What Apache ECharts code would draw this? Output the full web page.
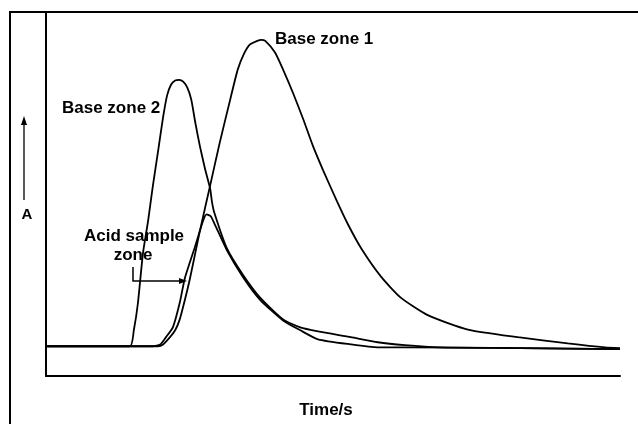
<!DOCTYPE html>
<html>
<head>
<meta charset="utf-8">
<script src="https://cdn.jsdelivr.net/npm/echarts@6/dist/echarts.min.js"></script>
<style>
  html, body { margin: 0; padding: 0; background: #fff; }
  #chart { width: 638px; height: 424px; }
</style>
</head>
<body>
<div id="chart"></div>
<script>
// time (arbitrary units 0..100) and absorbance (0..100)
const zone2Time = [0, 14.6, 15.3, 16.0, 16.9, 17.8, 18.6, 19.5, 20.4, 21.1, 21.8, 22.5, 23.2, 23.9, 24.6, 25.3, 26.0, 26.8, 27.7, 28.6, 28.9, 29.3,
  31.5, 34.3, 37.3, 41.3, 44.3, 47.4, 53.1, 57.8, 62.5, 68.6, 82.6, 100]
const zone2Abs = [8.2, 8.2, 12.6, 19.9, 33.9, 42.9, 52.2, 61.7, 71.3, 77.3, 80.3, 81.4, 81.6, 81.1, 79.5, 76.2, 69.9, 63.4, 57.1, 51.6, 48.1, 45.1,
  35.2, 27.9, 21.6, 15.6, 13.4, 12.3, 10.7, 9.3, 8.5, 7.9, 7.7, 7.4]

const zone1Time = [0, 19.5, 20.4, 21.6, 22.5, 23.3, 24.2, 25.1, 26.8, 28.6, 30.3, 32.1, 33.4, 34.5, 35.5, 36.8, 37.5, 38.2, 39.9,
  41.3, 43.0, 44.8, 46.5, 48.3, 50.7, 52.6, 54.9, 58.4, 61.8, 66.6, 73.5, 82.2, 90.9, 97.4, 100]
const zone1Abs = [8.2, 8.2, 8.7, 10.7, 12.6, 15.6, 21.0, 27.0, 39.9, 52.5, 64.5, 76.2, 84.4, 88.8, 91.3, 92.3, 92.6, 92.3, 89.1,
  84.4, 78.1, 70.8, 63.4, 56.6, 48.1, 41.8, 35.2, 27.3, 21.6, 16.7, 12.8, 10.7, 9.0, 7.9, 7.7]

const acidTime = [0, 18.6, 19.9, 20.9, 22.1, 23.3, 24.2, 26.0, 27.4, 28.0, 28.7, 29.4, 31.5, 34.3, 37.3, 41.3, 44.3, 47.4,
  53.1, 57.8, 62.5, 82.6, 100]
const acidAbs = [8.2, 8.2, 8.7, 10.7, 13.4, 20.2, 27.0, 35.8, 42.9, 44.5, 44.0, 41.8, 34.7, 27.3, 21.0, 15.3, 12.6, 10.1,
  8.7, 7.9, 7.9, 7.7, 7.4]

const pair = (xs, ys) => xs.map((x, i) => [x, ys[i]])

const labelFont = 'bold 17px "Liberation Sans", Arial, sans-serif'

const chart = echarts.init(document.getElementById('chart'))

const lineSeries = (name, data) => ({
  name: name,
  type: 'line',
  data: data,
  symbol: 'none',
  smooth: 0.2,
  lineStyle: { color: '#000', width: 1.8 },
  silent: true
})

const option = {
  animation: false,
  backgroundColor: '#fff',
  grid: { left: 46, right: 18, top: 13, bottom: 45 },
  xAxis: {
    type: 'value',
    min: 0,
    max: 100,
    name: 'Time/s',
    nameLocation: 'middle',
    nameGap: 26,
    nameTextStyle: {
      fontFamily: '"Liberation Sans", Arial, sans-serif',
      fontWeight: 'bold',
      fontSize: 17,
      color: '#000',
      padding: [0, 14, 0, 0]
    },
    axisLine: { lineStyle: { color: '#000', width: 2 } },
    axisTick: { show: false },
    axisLabel: { show: false },
    splitLine: { show: false }
  },
  yAxis: {
    type: 'value',
    min: 0,
    max: 100,
    axisLine: { show: true, lineStyle: { color: '#000', width: 2 } },
    axisTick: { show: false },
    axisLabel: { show: false },
    splitLine: { show: false }
  },
  series: [
    lineSeries('Base zone 2', pair(zone2Time, zone2Abs)),
    lineSeries('Base zone 1', pair(zone1Time, zone1Abs)),
    lineSeries('Acid sample zone', pair(acidTime, acidAbs))
  ],
  graphic: [
    // outer frame of the figure
    {
      type: 'rect',
      shape: { x: 10, y: 12, width: 700, height: 500 },
      style: { fill: 'none', stroke: '#000', lineWidth: 2 }
    },
    { type: 'text', x: 275, y: 39, style: { text: 'Base zone 1', font: labelFont, fill: '#000', textVerticalAlign: 'middle' } },
    { type: 'text', x: 62, y: 108, style: { text: 'Base zone 2', font: labelFont, fill: '#000', textVerticalAlign: 'middle' } },
    { type: 'text', x: 134, y: 236, style: { text: 'Acid sample', font: labelFont, fill: '#000', textAlign: 'center', textVerticalAlign: 'middle' } },
    { type: 'text', x: 133, y: 255, style: { text: 'zone', font: labelFont, fill: '#000', textAlign: 'center', textVerticalAlign: 'middle' } },
    { type: 'polyline', shape: { points: [[133, 267], [133, 281], [180, 281]] }, style: { stroke: '#000', lineWidth: 1.5, fill: 'none' } },
    { type: 'polygon', shape: { points: [[187, 281], [179, 278], [179, 284]] }, style: { fill: '#000' } },
    // y quantity with upward arrow
    { type: 'text', x: 27, y: 215, style: { text: 'A', font: 'bold 15px "Liberation Sans", Arial, sans-serif', fill: '#000', textAlign: 'center', textVerticalAlign: 'middle' } },
    { type: 'line', shape: { x1: 24, y1: 200, x2: 24, y2: 123 }, style: { stroke: '#000', lineWidth: 1.3 } },
    { type: 'polygon', shape: { points: [[24, 116], [21, 125], [27, 125]] }, style: { fill: '#000' } }
  ]
}

chart.setOption(option)
</script>
</body>
</html>
